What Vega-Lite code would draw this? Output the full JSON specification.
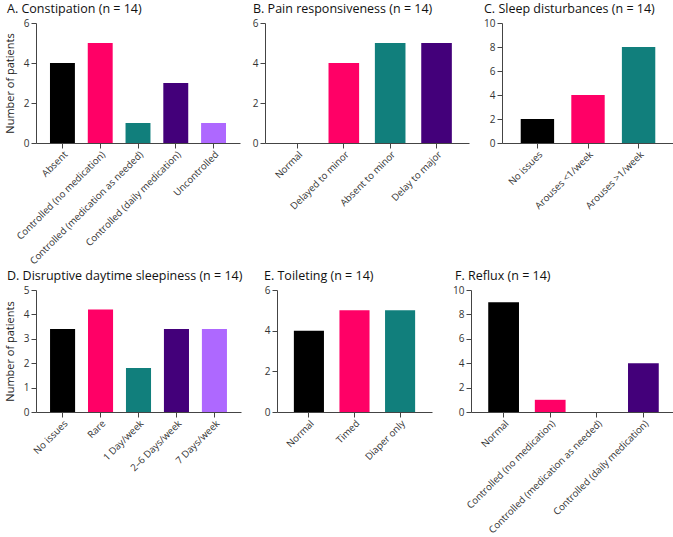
{
  "$schema": "https://vega.github.io/schema/vega-lite/v6.json",
  "background": "white",
  "padding": {"left": 4, "top": 2, "right": 3, "bottom": 0},
  "config": {
    "font": "Open Sans",
    "view": {"stroke": null},
    "title": {"font": "Open Sans", "fontSize": 12.5, "fontWeight": "normal", "color": "#111", "anchor": "start", "frame": "group", "offset": 3},
    "axis": {"labelFont": "Open Sans", "labelFontSize": 10, "labelColor": "#333", "titleFont": "Open Sans", "titleFontSize": 11, "titleFontWeight": "normal", "titleColor": "#222", "domainColor": "#444", "tickColor": "#444", "tickSize": 5, "labelPadding": 2, "grid": false},
    "axisX": {"labelAngle": -45, "title": null, "labelFontSize": 9.7, "labelPadding": 1},
    "bar": {"stroke": null},
    "concat": {"spacing": 5}
  },
  "datasets": {
    "rows": [
      {"panel": "A", "category": "Absent", "order": 1, "value": 4},
      {"panel": "A", "category": "Controlled (no medication)", "order": 2, "value": 5},
      {"panel": "A", "category": "Controlled (medication as needed)", "order": 3, "value": 1},
      {"panel": "A", "category": "Controlled (daily medication)", "order": 4, "value": 3},
      {"panel": "A", "category": "Uncontrolled", "order": 5, "value": 1},
      {"panel": "B", "category": "Normal", "order": 1, "value": 0},
      {"panel": "B", "category": "Delayed to minor", "order": 2, "value": 4},
      {"panel": "B", "category": "Absent to minor", "order": 3, "value": 5},
      {"panel": "B", "category": "Delay to major", "order": 4, "value": 5},
      {"panel": "C", "category": "No issues", "order": 1, "value": 2},
      {"panel": "C", "category": "Arouses <1/week", "order": 2, "value": 4},
      {"panel": "C", "category": "Arouses >1/week", "order": 3, "value": 8},
      {"panel": "D", "category": "No issues", "order": 1, "value": 3.4},
      {"panel": "D", "category": "Rare", "order": 2, "value": 4.2},
      {"panel": "D", "category": "1 Day/week", "order": 3, "value": 1.8},
      {"panel": "D", "category": "2–6 Days/week", "order": 4, "value": 3.4},
      {"panel": "D", "category": "7 Days/week", "order": 5, "value": 3.4},
      {"panel": "E", "category": "Normal", "order": 1, "value": 4},
      {"panel": "E", "category": "Timed", "order": 2, "value": 5},
      {"panel": "E", "category": "Diaper only", "order": 3, "value": 5},
      {"panel": "F", "category": "Normal", "order": 1, "value": 9},
      {"panel": "F", "category": "Controlled (no medication)", "order": 2, "value": 1},
      {"panel": "F", "category": "Controlled (medication as needed)", "order": 3, "value": 0},
      {"panel": "F", "category": "Controlled (daily medication)", "order": 4, "value": 4}
    ]
  },
  "data": {"name": "rows"},
  "vconcat": [
    {
      "hconcat": [
        {
          "width": 204, "height": 120,
          "title": {"text": "A. Constipation (n = 14)", "dx": -29},
          "transform": [{"filter": "datum.panel === 'A'"}],
          "mark": "bar",
          "encoding": {
            "x": {"field": "category", "type": "nominal", "sort": null, "scale": {"paddingInner": 0.34, "paddingOuter": 0.37}},
            "y": {"field": "value", "type": "quantitative", "scale": {"domain": [0, 6]}, "axis": {"values": [0, 2, 4, 6], "title": "Number of patients", "minExtent": 16, "maxExtent": 16, "titlePadding": 5}},
            "color": {"field": "order", "type": "ordinal", "scale": {"domain": [1, 2, 3, 4, 5], "range": ["#000000", "#FF0066", "#117F7C", "#43007A", "#AE68FF"]}, "legend": null}
          }
        },
        {
          "width": 204, "height": 120,
          "title": {"text": "B. Pain responsiveness (n = 14)", "dx": -12},
          "transform": [{"filter": "datum.panel === 'B'"}],
          "mark": "bar",
          "encoding": {
            "x": {"field": "category", "type": "nominal", "sort": null, "scale": {"paddingInner": 0.34, "paddingOuter": 0.37}},
            "y": {"field": "value", "type": "quantitative", "scale": {"domain": [0, 6]}, "axis": {"values": [0, 2, 4, 6], "title": null, "minExtent": 20, "maxExtent": 20}},
            "color": {"field": "order", "type": "ordinal", "scale": {"domain": [1, 2, 3, 4, 5], "range": ["#000000", "#FF0066", "#117F7C", "#43007A", "#AE68FF"]}, "legend": null}
          }
        },
        {
          "width": 172, "height": 120,
          "title": {"text": "C. Sleep disturbances (n = 14)", "dx": -18},
          "transform": [{"filter": "datum.panel === 'C'"}],
          "mark": "bar",
          "encoding": {
            "x": {"field": "category", "type": "nominal", "sort": null, "scale": {"paddingInner": 0.34, "paddingOuter": 0.37}},
            "y": {"field": "value", "type": "quantitative", "scale": {"domain": [0, 10]}, "axis": {"values": [0, 2, 4, 6, 8, 10], "title": null, "minExtent": 28, "maxExtent": 28}},
            "color": {"field": "order", "type": "ordinal", "scale": {"domain": [1, 2, 3, 4, 5], "range": ["#000000", "#FF0066", "#117F7C", "#43007A", "#AE68FF"]}, "legend": null}
          }
        }
      ]
    },
    {
      "hconcat": [
        {
          "width": 205, "height": 122,
          "title": {"text": "D. Disruptive daytime sleepiness (n = 14)", "dx": -29},
          "transform": [{"filter": "datum.panel === 'D'"}],
          "mark": "bar",
          "encoding": {
            "x": {"field": "category", "type": "nominal", "sort": null, "scale": {"paddingInner": 0.34, "paddingOuter": 0.37}},
            "y": {"field": "value", "type": "quantitative", "scale": {"domain": [0, 5]}, "axis": {"values": [0, 1, 2, 3, 4, 5], "title": "Number of patients", "minExtent": 16, "maxExtent": 16, "titlePadding": 5}},
            "color": {"field": "order", "type": "ordinal", "scale": {"domain": [1, 2, 3, 4, 5], "range": ["#000000", "#FF0066", "#117F7C", "#43007A", "#AE68FF"]}, "legend": null}
          }
        },
        {
          "width": 155, "height": 122,
          "title": {"text": "E. Toileting (n = 14)", "dx": -13},
          "transform": [{"filter": "datum.panel === 'E'"}],
          "mark": "bar",
          "encoding": {
            "x": {"field": "category", "type": "nominal", "sort": null, "scale": {"paddingInner": 0.34, "paddingOuter": 0.37}},
            "y": {"field": "value", "type": "quantitative", "scale": {"domain": [0, 6]}, "axis": {"values": [0, 2, 4, 6], "title": null, "minExtent": 29, "maxExtent": 29}},
            "color": {"field": "order", "type": "ordinal", "scale": {"domain": [1, 2, 3, 4, 5], "range": ["#000000", "#FF0066", "#117F7C", "#43007A", "#AE68FF"]}, "legend": null}
          }
        },
        {
          "width": 205, "height": 122,
          "title": {"text": "F. Reflux (n = 14)", "dx": -16},
          "transform": [{"filter": "datum.panel === 'F'"}],
          "mark": "bar",
          "encoding": {
            "x": {"field": "category", "type": "nominal", "sort": null, "scale": {"paddingInner": 0.34, "paddingOuter": 0.37}},
            "y": {"field": "value", "type": "quantitative", "scale": {"domain": [0, 10]}, "axis": {"values": [0, 2, 4, 6, 8, 10], "title": null, "minExtent": 34, "maxExtent": 34}},
            "color": {"field": "order", "type": "ordinal", "scale": {"domain": [1, 2, 3, 4, 5], "range": ["#000000", "#FF0066", "#117F7C", "#43007A", "#AE68FF"]}, "legend": null}
          }
        }
      ]
    }
  ],
  "spacing": 3
}
